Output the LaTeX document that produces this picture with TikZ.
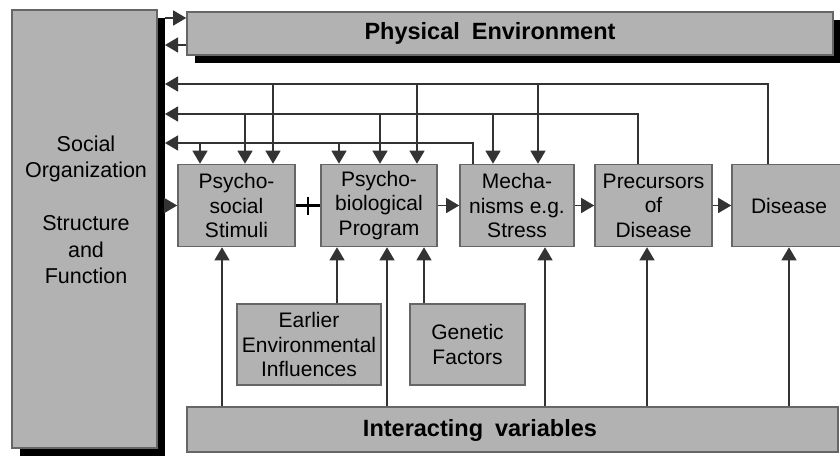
\documentclass[tikz,border=0pt]{standalone}
\usepackage{fontspec}
\setmainfont{Liberation Sans}
\usetikzlibrary{arrows.meta,shadows}

\begin{document}
\begin{tikzpicture}[
    x=1pt, y=-1pt,
    >={Triangle[length=13pt,width=15pt]},
    every node/.style={font=\fontsize{21}{24.5}\selectfont},
    box/.style={
        draw=black!60,
        line width=1.6pt,
        fill=black!30,
        align=center,
        inner sep=0pt
    },
    shadowbox/.style={
        box,
        drop shadow={shadow xshift=7.5pt, shadow yshift=-7.5pt, fill=black, opacity=1}
    },
    rowbox/.style={box, minimum height=82pt},
    link/.style={draw=black!80, line width=1.3pt},
    heading/.style={font=\fontsize{23.5}{27}\selectfont\bfseries}
]

    \useasboundingbox (0,0) rectangle (840,455);

    % Social organization
    \node[shadowbox, minimum width=145pt, minimum height=438pt] (social) at (84.5,229) {};
    \node[align=center, font=\fontsize{21.5}{26.5}\selectfont] (socialtext) at (86,210)
        {Social\\Organization\\[26.5pt]Structure\\and\\Function};
    \coordinate (bar) at (165,0);

    % Physical environment
    \node[shadowbox, minimum width=646pt, minimum height=43pt] (phys) at (510,33.5) {};
    \node[heading] (physlabel) at (490,33) {Physical\hspace{12pt}Environment};

    % Interacting variables
    \node[box, minimum width=651pt, minimum height=45pt] (inter) at (512.5,429.5) {};
    \node[heading] (interlabel) at (480,430) {Interacting\hspace{12pt}variables};

    % Main chain
    \node[rowbox, minimum width=117pt] (stim) at (236.5,205.5) {Psycho-\\social\\Stimuli};
    \node[rowbox, minimum width=116pt] (prog) at (379,205.5) {Psycho-\\biological\\Program};
    \node[rowbox, minimum width=114pt] (mech) at (517,205.5) {Mecha-\\nisms e.g.\\Stress};
    \node[rowbox, minimum width=117pt] (prec) at (653.5,205.5) {Precursors\\of\\Disease};
    \node[rowbox, minimum width=114pt] (dis) at (789,205.5) {Disease};

    % Lower boxes
    \node[box, minimum width=144pt, minimum height=81pt] (early) at (309,344.5)
        {Earlier\\Environmental\\Influences};
    \node[box, minimum width=115pt, minimum height=81pt] (gene) at (467.5,344.5)
        {Genetic\\Factors};

    % Links to the physical environment
    \coordinate (pin) at ([yshift=15.5pt]phys.west);
    \draw[link,->] (pin -| bar) -- (pin);
    \coordinate (pout) at ([yshift=-11.5pt]phys.west);
    \draw[link,->] (pout) -- (pout -| bar);

    % Chain arrows
    \draw[link,->] (stim.west -| bar) -- (stim.west);
    \draw[link, draw=black, line width=2.4pt] (stim) -- (prog);
    \path (stim.east) -- (prog.west) coordinate[midway] (plus);
    \draw[link, draw=black, line width=2.4pt] ([yshift=9pt]plus) -- ([yshift=-9pt]plus);
    \draw[link,->] (prog) -- (mech);
    \draw[link,->] (mech) -- (prec);
    \draw[link,->] (prec) -- (dis);

    % Feedback rails
    \coordinate (railA) at (165,84);
    \coordinate (railB) at (165,114);
    \coordinate (railC) at (165,143);
    \draw[link,->] ([xshift=-21pt]dis.north) |- (railA);
    \draw[link,->] ([xshift=-15.5pt]prec.north) |- (railB);
    \draw[link,->] ([xshift=-44pt]mech.north) |- (railC);

    \foreach \n/\dx/\r in {stim/-36.5/railC, stim/8.5/railB, stim/36.5/railA,
                           prog/-40/railC, prog/1/railB, prog/38/railA,
                           mech/-24/railB, mech/21/railA}{
        \coordinate (top) at ([xshift=\dx pt]\n.north);
        \draw[link,->] (top |- \r) -- (top);
    }

    % Inputs from below
    \foreach \n/\dx/\src in {stim/-14.5/inter, prog/-42/early, prog/8/inter,
                             prog/45/gene, mech/28/inter, prec/-6.5/inter, dis/0/inter}{
        \coordinate (foot) at ([xshift=\dx pt]\n.south);
        \draw[link,->] (foot |- \src.north) -- (foot);
    }

\end{tikzpicture}
\end{document}
